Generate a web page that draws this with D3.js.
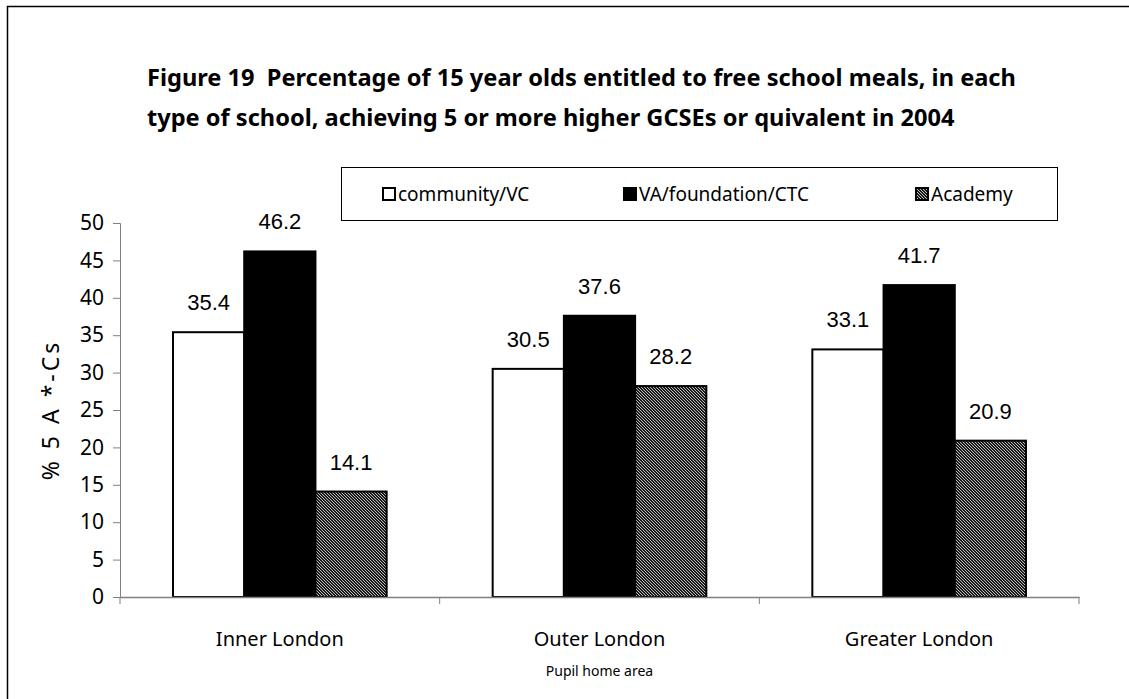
<!DOCTYPE html>
<html>
<head>
<meta charset="utf-8">
<script src="https://cdn.jsdelivr.net/npm/d3@7"></script>
<style>
  body { margin: 0; background: #fff; }
  svg text { font-family: "Noto Sans", "DejaVu Sans", sans-serif; }
</style>
</head>
<body>
<div id="chart"></div>
<script>
var areas = ["Inner London", "Outer London", "Greater London"]
var schoolTypes = ["community/VC", "VA/foundation/CTC", "Academy"]
var communityVC = [35.4, 30.5, 33.1]
var vaFoundation = [46.2, 37.6, 41.7]
var academy = [14.1, 28.2, 20.9]
var yTicks = [0, 5, 10, 15, 20, 25, 30, 35, 40, 45, 50]

var W = 1129, H = 699
var margin = { top: 223, left: 120, right: 50, bottom: 102 }
var width = 1079 - margin.left,
    height = 597 - margin.top

var svg = d3.select("#chart")
  .append("svg")
  .attr("width", W)
  .attr("height", H)

// fine hatch used for the Academy bars
var defs = svg.append("defs")
var pat = defs.append("pattern")
  .attr("id", "hatch")
  .attr("patternUnits", "userSpaceOnUse")
  .attr("width", 3)
  .attr("height", 3)
pat.append("rect").attr("width", 3).attr("height", 3).attr("fill", "#1a1a1a")
pat.selectAll("rect.px")
  .data([[0, 0], [1, 1], [2, 2]])
  .enter()
  .append("rect")
  .attr("class", "px")
  .attr("x", function(d) { return d[0] })
  .attr("y", function(d) { return d[1] })
  .attr("width", 1).attr("height", 1)
  .attr("fill", "#bdbdbd")

// outer frame (runs off the right and bottom of the picture)
svg.append("rect")
  .attr("x", 7.5).attr("y", 6.5)
  .attr("width", W + 20).attr("height", H + 20)
  .style("fill", "none")
  .style("stroke", "#000")
  .style("stroke-width", 1.5)

var title = svg.append("text")
  .attr("x", 147)
  .attr("y", 86)
  .style("font-size", "23.6px")
  .style("font-weight", "bold")
  .style("white-space", "pre")
title.append("tspan").attr("x", 147).text("Figure 19  Percentage of 15 year olds entitled to free school meals, in each")
title.append("tspan").attr("x", 147).attr("dy", 40).text("type of school, achieving 5 or more higher GCSEs or quivalent in 2004")

var g = svg.append("g")
  .attr("transform", "translate(" + margin.left + "," + margin.top + ")")

var x0 = d3.scaleBand().domain(areas).range([0, width]).paddingInner(0).paddingOuter(0)
var x1 = d3.scaleBand().domain(schoolTypes).range([53, x0.bandwidth() - 53])
var y = d3.scaleLinear().domain([0, 50]).range([height, 0])

var fills = { "community/VC": "#fff", "VA/foundation/CTC": "#000", "Academy": "url(#hatch)" }
var seriesVals = { "community/VC": communityVC, "VA/foundation/CTC": vaFoundation, "Academy": academy }

// y axis
var yAxis = g.append("g")
  .call(d3.axisLeft(y).tickValues(yTicks).tickSize(7).tickPadding(9))
yAxis.select(".domain").attr("stroke", "#808080")
yAxis.selectAll(".tick line").attr("stroke", "#808080")
yAxis.selectAll(".tick text")
  .style("font-size", "21px")
  .attr("fill", "#000")

// bars
var rows = []
areas.forEach(function(a, i) {
  schoolTypes.forEach(function(s) {
    rows.push({ area: a, type: s, value: seriesVals[s][i] })
  })
})

g.selectAll(".bar")
  .data(rows)
  .enter()
  .append("rect")
  .attr("class", "bar")
  .attr("x", function(d) { return x0(d.area) + x1(d.type) })
  .attr("y", function(d) { return y(d.value) })
  .attr("width", x1.bandwidth())
  .attr("height", function(d) { return height - y(d.value) })
  .style("fill", function(d) { return fills[d.type] })
  .style("stroke", "#000")
  .style("stroke-width", 2)

g.selectAll(".val")
  .data(rows)
  .enter()
  .append("text")
  .attr("class", "val")
  .attr("x", function(d) { return x0(d.area) + x1(d.type) + x1.bandwidth() / 2 })
  .attr("y", function(d) { return y(d.value) - 22 })
  .attr("text-anchor", "middle")
  .style("font-family", "'Liberation Sans', Arial, sans-serif")
  .style("font-size", "22px")
  .text(function(d) { return d.value.toFixed(1) })

// x axis
var xAxis = g.append("g")
  .attr("transform", "translate(0," + height + ")")
  .call(d3.axisBottom(x0).tickSize(0).tickPadding(35))
xAxis.select(".domain").attr("stroke", "#808080").attr("stroke-width", 1.5)
xAxis.selectAll(".tick text")
  .style("font-size", "20px")
  .attr("fill", "#000")
g.selectAll(".xtick")
  .data(d3.range(areas.length + 1))
  .enter()
  .append("line")
  .attr("x1", function(i) { return i * x0.bandwidth() })
  .attr("x2", function(i) { return i * x0.bandwidth() })
  .attr("y1", height)
  .attr("y2", height + 7)
  .attr("stroke", "#808080")

svg.append("text")
  .attr("x", margin.left + width / 2)
  .attr("y", 676)
  .attr("text-anchor", "middle")
  .style("font-size", "14px")
  .text("Pupil home area")

svg.append("text")
  .attr("transform", "translate(59," + (margin.top + height / 2) + ") rotate(-90)")
  .attr("text-anchor", "middle")
  .style("font-size", "23px")
  .style("letter-spacing", "3px")
  .style("white-space", "pre")
  .text("% 5 A *-Cs")

// legend
svg.append("rect")
  .attr("x", 341.5).attr("y", 167.5)
  .attr("width", 716).attr("height", 53)
  .style("fill", "#fff")
  .style("stroke", "#000")
  .style("stroke-width", 1)

var legX = [383, 624, 916]
var leg = svg.selectAll(".leg")
  .data(schoolTypes)
  .enter()
  .append("g")
  .attr("transform", function(d, i) { return "translate(" + legX[i] + ",194)" })
leg.append("rect")
  .attr("x", 0).attr("y", -6)
  .attr("width", 12).attr("height", 12)
  .style("fill", function(d) { return fills[d] })
  .style("stroke", "#000")
  .style("stroke-width", 2)
leg.append("text")
  .attr("x", 15)
  .attr("y", 7)
  .style("font-size", "19px")
  .text(function(d) { return d })
</script>
</body>
</html>
